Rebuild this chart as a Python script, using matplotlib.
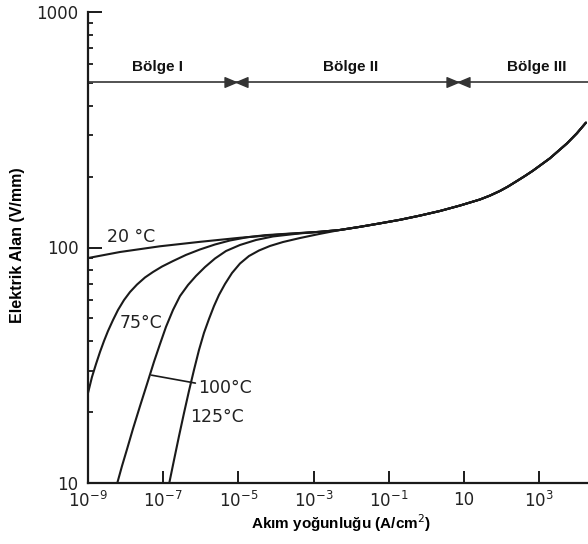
import numpy as np
import matplotlib
matplotlib.use('Agg')
import matplotlib.pyplot as plt
from matplotlib.path import Path
from matplotlib.ticker import FixedLocator, FixedFormatter, LogLocator, NullFormatter

# ---- data: x = log10 of current density (A/cm^2), y = electric field (V/mm) ----
x20_log = [-9.000, -8.149, -7.085, -6.021, -4.957, -3.894, -2.830]
y20 = [90.2, 95.7, 101.2, 105.7, 110.0, 113.6, 116.6]

x75_log = [-9.000, -8.894, -8.787, -8.681, -8.574, -8.468, -8.335, -8.202, -8.043,
           -7.883, -7.697, -7.484, -7.271, -7.032, -6.739, -6.394, -6.021, -5.622,
           -5.223, -4.771, -4.293, -3.628, -2.830]
y75 = [24.1, 28.2, 32.0, 36.0, 40.1, 44.2, 49.2, 54.3, 59.8,
       64.7, 69.6, 74.6, 78.7, 83.0, 87.6, 93.0, 98.1, 103.0,
       107.1, 110.5, 112.8, 114.6, 116.6]

x100_log = [-8.221, -8.096, -7.963, -7.803, -7.617, -7.431, -7.245, -7.085, -6.926,
            -6.739, -6.553, -6.340, -6.128, -5.888, -5.622, -5.330, -4.957, -4.532,
            -4.080, -3.362, -2.830]
y100 = [10.0, 11.8, 13.9, 17.0, 21.2, 26.3, 32.7, 38.9, 46.0,
        54.3, 62.2, 69.3, 75.7, 82.6, 89.8, 96.6, 102.5, 107.6,
        111.4, 114.8, 116.6]

x125_log = [-6.838, -6.713, -6.580, -6.447, -6.314, -6.181, -6.048, -5.915, -5.782,
            -5.649, -5.516, -5.356, -5.170, -4.957, -4.718, -4.452, -4.160, -3.814,
            -3.362, -2.830]
y125 = [10.0, 12.5, 15.8, 19.8, 24.6, 30.2, 36.7, 43.4, 49.7,
        56.4, 62.9, 70.0, 77.9, 85.5, 92.0, 97.1, 101.5, 105.5,
        109.7, 114.3]

common_x_log = [-2.298, -1.766, -1.234, -0.702, -0.170, 0.362, 0.894, 1.426, 1.691,
                1.957, 2.170, 2.410, 2.622, 2.835, 3.287, 3.739, 4.005, 4.245]
common_y = [118.7, 122.4, 126.6, 131.1, 136.6, 142.9, 150.7, 159.9, 166.1,
            173.8, 181.4, 191.6, 201.2, 211.9, 239.2, 276.5, 305.5, 338.9]

region_line_y = 504
region_bounds_log = [-5.05, 0.84]
region_names = ['Bölge I', 'Bölge II', 'Bölge III']
region_label_x_log = [-7.15, -2.02, 2.95]
region_label_y = 586

x_tick_vals = [1e-9, 1e-7, 1e-5, 1e-3, 1e-1, 1e1, 1e3]
x_tick_labels = [r'$10^{-9}$', r'$10^{-7}$', r'$10^{-5}$', r'$10^{-3}$', r'$10^{-1}$', '10', r'$10^{3}$']
y_tick_vals = [10, 100, 1000]
y_tick_labels = ['10', '100', '1000']

# ---- figure ----
fig = plt.figure(figsize=(5.88, 5.44), dpi=100)
ax = fig.add_axes([88/588, 61/544, 500/588, 471/544])
ax.set_xscale('log')
ax.set_yscale('log')
ax.set_xlim(1e-9, 10**4.3)
ax.set_ylim(10, 1000)

lc = '#1a1a1a'
lw = 1.5
cx = 10**np.array(common_x_log)
cy = np.array(common_y)
for xs, ys in [(x20_log, y20), (x75_log, y75), (x100_log, y100), (x125_log, y125)]:
    xx = np.concatenate([10**np.array(xs), cx])
    yy = np.concatenate([np.array(ys), cy])
    ax.plot(xx, yy, color=lc, lw=lw, solid_capstyle='round', solid_joinstyle='round')

# region line with bow-tie markers
ax.axhline(region_line_y, color='#444444', lw=1.3)
verts = [(-1, -0.42), (0, 0), (-1, 0.42), (-1, -0.42),
         (1, -0.42), (0, 0), (1, 0.42), (1, -0.42)]
codes = [Path.MOVETO, Path.LINETO, Path.LINETO, Path.CLOSEPOLY] * 2
bowtie = Path(verts, codes)
ax.plot(10**np.array(region_bounds_log), [region_line_y] * len(region_bounds_log),
        linestyle='none', marker=bowtie, markersize=16.5, color='#333333')
for name, xl in zip(region_names, region_label_x_log):
    ax.text(10**xl, region_label_y, name, ha='center', va='center',
            fontsize=11, fontweight='bold', family='Liberation Sans', color='#111111')

# curve labels
lab_kw = dict(fontsize=12.5, color='#222222', family='DejaVu Sans')
ax.text(10**-8.50, 110.8, '20 °C', ha='left', va='center', **lab_kw)
ax.text(10**-8.16, 47.6, '75°C', ha='left', va='center', **lab_kw)
ax.annotate('100°C', xy=(10**-7.31, 28.7), xytext=(10**-6.07, 25.2),
            ha='left', va='center',
            arrowprops=dict(arrowstyle='-', color=lc, lw=1.2, shrinkA=0, shrinkB=0),
            **lab_kw)
ax.text(10**-6.29, 19.1, '125°C', ha='left', va='center', **lab_kw)

# spines and ticks
for s in ['top', 'right']:
    ax.spines[s].set_visible(False)
for s in ['left', 'bottom']:
    ax.spines[s].set_linewidth(1.6)
    ax.spines[s].set_color('#1a1a1a')

ax.xaxis.set_major_locator(FixedLocator(x_tick_vals))
ax.xaxis.set_major_formatter(FixedFormatter(x_tick_labels))
ax.xaxis.set_minor_locator(FixedLocator([]))
ax.yaxis.set_major_locator(FixedLocator(y_tick_vals))
ax.yaxis.set_major_formatter(FixedFormatter(y_tick_labels))
ax.yaxis.set_minor_locator(LogLocator(base=10, subs=np.arange(2, 10)))
ax.yaxis.set_minor_formatter(NullFormatter())

ax.tick_params(axis='x', which='major', direction='in', length=8.5, width=1.4,
               labelsize=12, pad=6, colors='#1a1a1a')
ax.tick_params(axis='y', which='major', direction='in', length=10, width=1.4,
               labelsize=12, pad=7, colors='#1a1a1a')
ax.tick_params(axis='y', which='minor', direction='in', length=3.5, width=1.3,
               colors='#1a1a1a')
for t in ax.get_xticklabels() + ax.get_yticklabels():
    t.set_color('#222222')

fig.text(18/588, 1 - 245/544, 'Elektrik Alan (V/mm)', rotation=90, ha='center', va='center',
         fontsize=11.5, fontweight='bold', family='Liberation Sans')
fig.text(341/588, 1 - 523/544, 'Akım yoğunluğu (A/cm$^{2}$)', ha='center', va='center',
         fontsize=11, fontweight='bold', family='Liberation Sans')

fig.savefig('out.png', dpi=100)
